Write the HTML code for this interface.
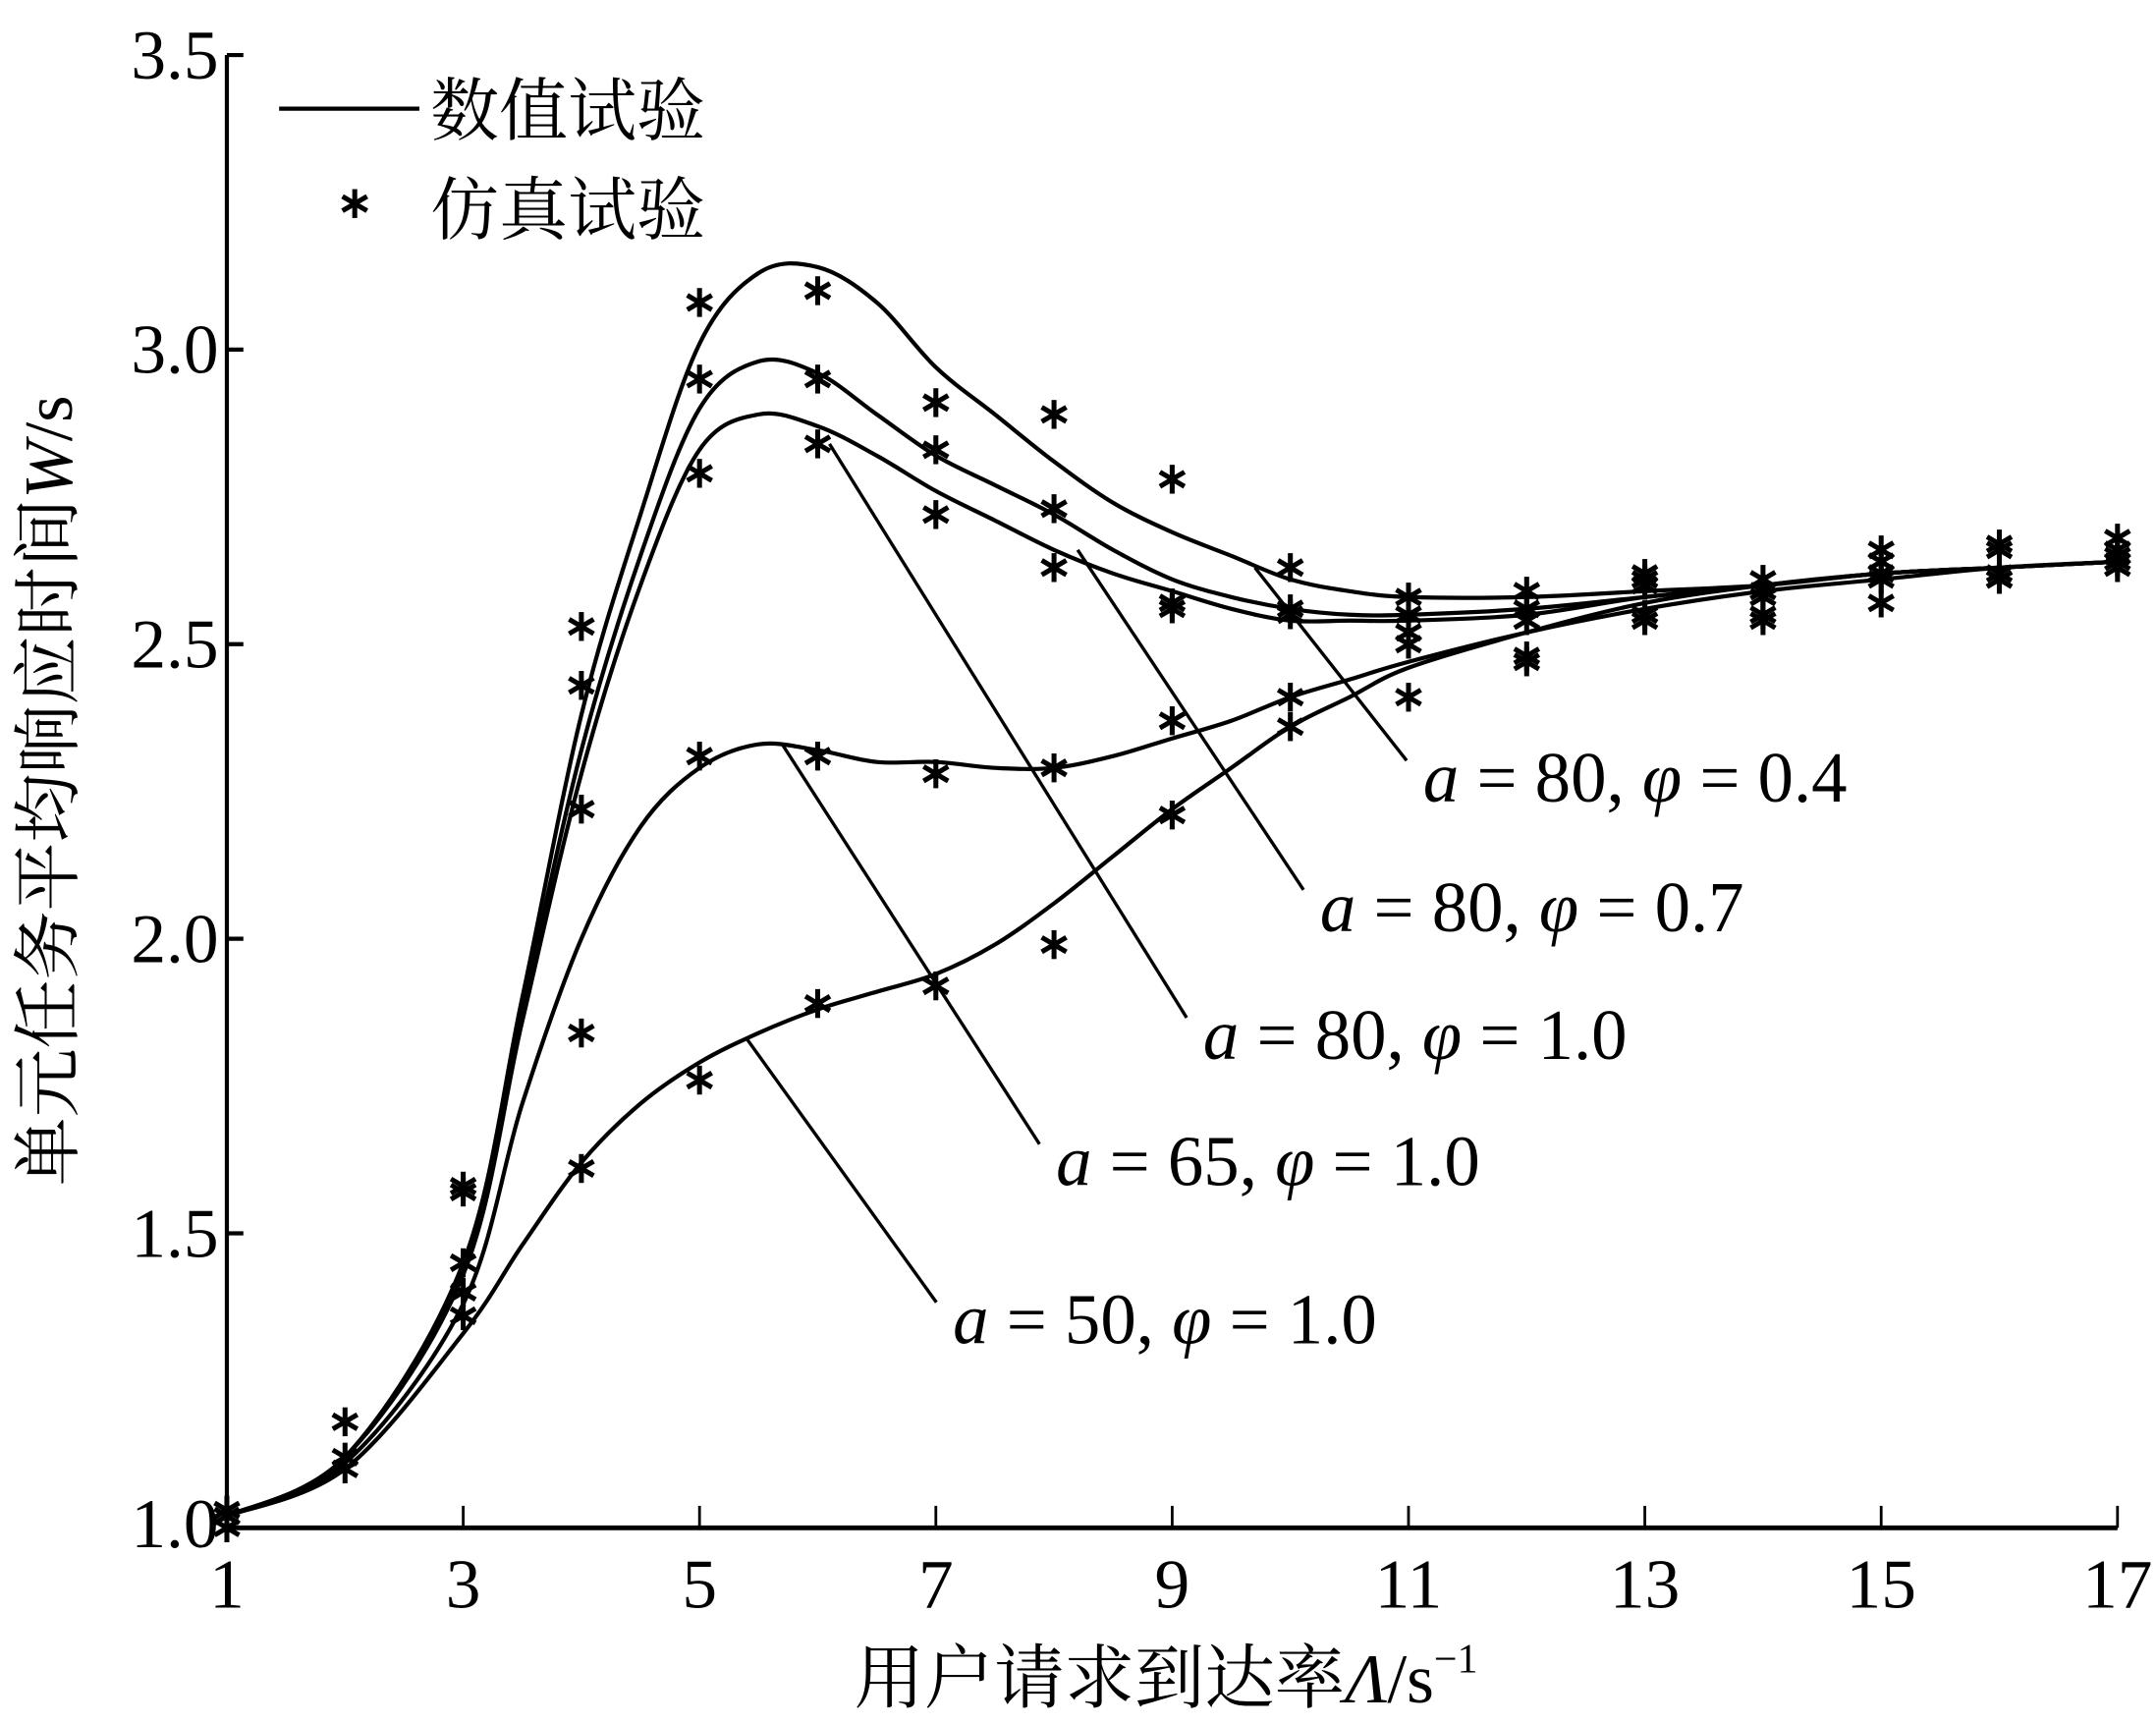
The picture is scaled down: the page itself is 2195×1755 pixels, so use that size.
<!DOCTYPE html>
<html><head><meta charset="utf-8"><style>
html,body{margin:0;padding:0;background:#fff;}
svg{display:block;}
text{font-family:"Liberation Serif","Noto Serif CJK SC",serif;fill:#000;}
</style></head><body>
<svg id="chart" width="2195" height="1755" viewBox="0 0 1568 1253.6" xmlns="http://www.w3.org/2000/svg">
<g id="axes"></g>
<g id="series"></g>
<g id="stars"></g>
<g id="annot"></g>
<g>
  <line x1="203" y1="79" x2="305" y2="79" stroke="#000" stroke-width="3"/>
  <text x="313" y="98" font-size="50">数值试验</text>
  <g id="legstar"></g>
  <text x="313" y="170" font-size="50">仿真试验</text>
</g>
<text transform="translate(52,575) rotate(-90)" text-anchor="middle" font-size="50">单元任务平均响应时间<tspan font-style="italic">W</tspan>/s</text>
<text x="848" y="1238" text-anchor="middle" font-size="51">用户请求到达率<tspan font-style="italic">Λ</tspan>/s<tspan font-size="30" dy="-22">−1</tspan></text>
</svg>
<script>
const xTicks=[1,3,5,7,9,11,13,15,17];
const yTicks=[1.0,1.5,2.0,2.5,3.0,3.5];
const xs=[1,2,3,3.5,4,4.5,5,5.5,6,6.5,7,7.5,8,8.5,9,9.5,10,10.5,11,12,13,14,15,16,17];
const sA=[1.02,1.12,1.45,1.9,2.38,2.72,3.01,3.13,3.14,3.08,2.97,2.89,2.81,2.74,2.69,2.65,2.61,2.59,2.58,2.58,2.59,2.60,2.62,2.63,2.64];
const sB=[1.02,1.12,1.44,1.88,2.32,2.65,2.90,2.98,2.96,2.89,2.82,2.77,2.72,2.66,2.61,2.58,2.56,2.55,2.55,2.56,2.58,2.60,2.62,2.63,2.64];
const sC=[1.02,1.12,1.43,1.86,2.28,2.60,2.83,2.89,2.87,2.82,2.76,2.71,2.66,2.62,2.59,2.56,2.54,2.54,2.54,2.55,2.58,2.60,2.62,2.63,2.64];
const sD=[1.02,1.11,1.38,1.72,2.00,2.19,2.29,2.33,2.32,2.30,2.30,2.29,2.29,2.31,2.34,2.37,2.41,2.44,2.47,2.52,2.56,2.59,2.61,2.63,2.64];
const sE=[1.02,1.10,1.33,1.48,1.62,1.72,1.79,1.84,1.88,1.91,1.94,1.99,2.06,2.14,2.22,2.29,2.36,2.41,2.46,2.52,2.57,2.60,2.62,2.63,2.64];
const starX=[1,1,1,2,2,2,3,3,3,3,3,4,4,4,4,4,5,5,5,5,5,6,6,6,6,6,7,7,7,7,7,8,8,8,8,8,9,9,9,9,9,10,10,10,10,10,11,11,11,11,11,12,12,12,12,12,13,13,13,13,13,14,14,14,14,14,15,15,15,15,15,16,16,16,16,16,17,17,17,17,17];
const starY=[1.00,1.02,1.03,1.18,1.12,1.10,1.58,1.57,1.45,1.40,1.36,2.53,2.43,2.22,1.84,1.61,3.08,2.95,2.79,2.31,1.76,3.10,2.95,2.84,2.31,1.89,2.91,2.83,2.72,2.28,1.92,2.89,2.73,2.63,2.29,1.99,2.78,2.57,2.56,2.37,2.21,2.63,2.56,2.55,2.41,2.36,2.58,2.55,2.52,2.50,2.41,2.59,2.56,2.54,2.48,2.47,2.62,2.61,2.60,2.55,2.54,2.61,2.59,2.58,2.55,2.54,2.66,2.64,2.62,2.61,2.57,2.67,2.66,2.62,2.61,2.61,2.68,2.66,2.65,2.64,2.63];
const annLabels=["80","80","80","65","50"];
const annPhi=["0.4","0.7","1.0","1.0","1.0"];
const annX=[9.7,8.2,6.1,5.7,5.4];
const annY=[2.63,2.66,2.84,2.33,1.83];

const NS="http://www.w3.org/2000/svg";
const X0=165,X1=1540,Y0=1111,Y1=40;
const sx=v=>X0+(v-1)/16*(X1-X0);
const sy=v=>Y0-(v-1)/2.5*(Y0-Y1);
function mk(tag,attrs,parent){const e=document.createElementNS(NS,tag);for(const k in attrs)e.setAttribute(k,attrs[k]);parent.appendChild(e);return e;}
const axes=document.getElementById('axes');
let e;
e=mk('line',{x1:X0,y1:Y0,x2:X1,y2:Y0,stroke:'#000','stroke-width':3.5},axes);


e=mk('line',{x1:X0,y1:Y0,x2:X0,y2:Y1,stroke:'#000','stroke-width':3},axes);


xTicks.forEach(t=>{
  const l=mk('line',{x1:sx(t),y1:Y0,x2:sx(t),y2:Y0-16,stroke:'#000','stroke-width':2},axes);
  
  
  const tx=mk('text',{x:sx(t),y:Y0+58,'text-anchor':'middle','font-size':51},axes);
  tx.textContent=t;
  
  
});
yTicks.forEach(t=>{
  const l=mk('line',{x1:X0,y1:sy(t),x2:X0+12,y2:sy(t),stroke:'#000','stroke-width':3},axes);
  
  
  const tx=mk('text',{x:X0-6,y:sy(t)+(t===1?14:17),'text-anchor':'end','font-size':51},axes);
  tx.textContent=t.toFixed(1);
  
  
});
function smooth(vals){
  const p=xs.map((x,i)=>[sx(x),sy(vals[i])]);
  let d='M'+p[0][0]+','+p[0][1];
  for(let i=0;i<p.length-1;i++){
    const a=p[i-1]||p[i],b=p[i],c=p[i+1],dd=p[i+2]||c;
    d+=` C${b[0]+(c[0]-a[0])/6},${b[1]+(c[1]-a[1])/6} ${c[0]-(dd[0]-b[0])/6},${c[1]-(dd[1]-b[1])/6} ${c[0]},${c[1]}`;
  }
  return d;
}
const sg=document.getElementById('series');
[[sA,'curve-a80-phi04'],[sB,'curve-a80-phi07'],[sC,'curve-a80-phi10'],[sD,'curve-a65-phi10'],[sE,'curve-a50-phi10']].forEach(([v,n])=>{
  const p=mk('path',{d:smooth(v),fill:'none',stroke:'#000','stroke-width':3},sg);
  
  
});
function star(cx,cy,parent){
  const g=mk('g',{stroke:'#000','stroke-width':3.6},parent);
  const r=10.5;
  mk('line',{x1:cx,y1:cy-r,x2:cx,y2:cy+r},g);
  mk('line',{x1:cx-r*0.85,y1:cy-r*0.5,x2:cx+r*0.85,y2:cy+r*0.5},g);
  mk('line',{x1:cx-r*0.85,y1:cy+r*0.5,x2:cx+r*0.85,y2:cy-r*0.5},g);
  return g;
}
const stg=document.getElementById('stars');
starX.forEach((x,i)=>{
  const g=star(sx(x),sy(starY[i]),stg);
  
  
});
star(258,148,document.getElementById('legstar'));
const ag=document.getElementById('annot');
const txtPos=[[1035,583],[960,677],[875,770],[768,862],[693,977]];
annX.forEach((x,i)=>{
  const [tx,ty]=txtPos[i];
  const l=mk('line',{x1:sx(x),y1:sy(annY[i]),x2:tx-12,y2:ty-30,stroke:'#000','stroke-width':2.4},ag);
  
  
  const t=mk('text',{x:tx,y:ty,'font-size':52},ag);
  t.innerHTML='<tspan font-style="italic">a</tspan> = '+annLabels[i]+', <tspan font-style="italic">φ</tspan> = '+annPhi[i];
  
  
});
</script>
</body></html>
